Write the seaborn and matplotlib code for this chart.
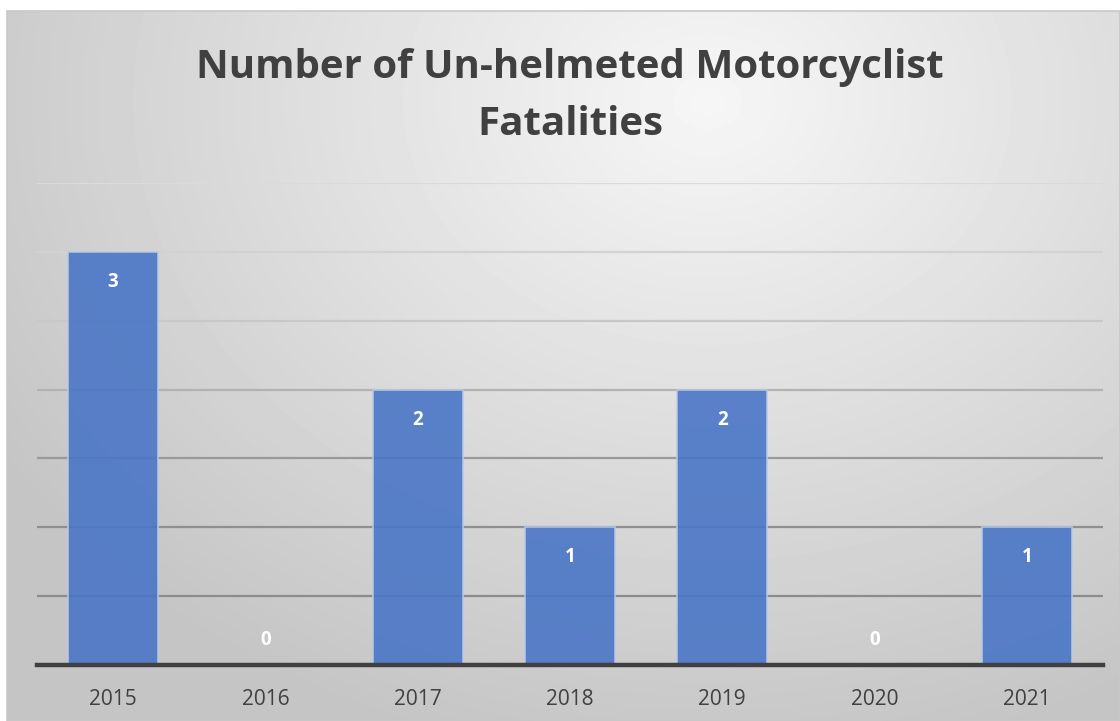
import numpy as np
import pandas as pd
import seaborn as sns
import matplotlib.pyplot as plt
from matplotlib.patches import Rectangle

# data
years = ['2015', '2016', '2017', '2018', '2019', '2020', '2021']
fatalities = [3, 0, 2, 1, 2, 0, 1]
title = 'Number of Un-helmeted Motorcyclist\nFatalities'

df = pd.DataFrame({'year': years, 'fatalities': fatalities})

sns.set_theme(style='white')
plt.rcParams['font.family'] = ['Open Sans', 'DejaVu Sans']

W, H = 1120, 721
fig = plt.figure(figsize=(W / 100, H / 100), dpi=100)
fig.patch.set_facecolor('white')

# radial grey gradient behind everything (chart area starts at 7,11)
bg = fig.add_axes([7 / W, 0, 1 - 7 / W, 1 - 11 / H], zorder=0)
yy, xx = np.mgrid[0:H - 11, 0:W - 7]
d = np.sqrt(((xx - 700) / 950.0) ** 2 + ((yy - 90) / 760.0) ** 2)
shade = np.clip(0.965 - 0.22 * d, 0.77, 1)
bg.imshow(shade, cmap='gray', vmin=0, vmax=1, aspect='auto', interpolation='bilinear')
bg.axis('off')
fig.add_artist(Rectangle((7 / W, 0), 1 - 7 / W, 1 - 11 / H, transform=fig.transFigure,
                         fill=False, edgecolor='#c8c8c8', linewidth=1.2, zorder=1))

# plot area: x 37..1103, y 183 (3.5) .. 665 (0)
ax = fig.add_axes([37 / W, (H - 665) / H, (1103 - 37) / W, (665 - 183) / H], zorder=2)
ax.patch.set_alpha(0)

grid_cols = ['#8c8c8c', '#8f8f8f', '#999999', '#b2b2b2', '#c8c8c8', '#d2d2d2', '#dadada']
for lvl, c in zip(np.arange(0.5, 3.51, 0.5), grid_cols):
    ax.axhline(lvl, color=c, linewidth=1.6, zorder=1)

sns.barplot(data=df, x='year', y='fatalities', color='#4a76c6', saturation=1,
            width=0.59, edgecolor='#b8cbe8', linewidth=1.2, alpha=0.9, ax=ax, zorder=2)

ax.set_ylim(0, 3.5)
ax.set_xlim(-0.5, len(years) - 0.5)
ax.set_yticks([])
ax.set_xlabel('')
ax.set_ylabel('')
for s in ['top', 'right', 'left']:
    ax.spines[s].set_visible(False)
ax.spines['bottom'].set_color('#404040')
ax.spines['bottom'].set_linewidth(3.2)
ax.spines['bottom'].set_zorder(3)
ax.tick_params(axis='x', length=0, pad=17, labelsize=15, labelcolor='#404040')

for i, v in enumerate(fatalities):
    off = -30 if v > 0 else 25
    ax.annotate(str(v), (i, v), xytext=(0, off), textcoords='offset pixels',
                ha='center', va='center', color='white', fontsize=13.5,
                fontweight='bold', zorder=4)

fig.text(570 / W, 1 - 96 / H, title, ha='center', va='center', fontsize=29,
         fontweight='bold', color='#404040', linespacing=1.62)

fig.savefig('out.png', dpi=100)
